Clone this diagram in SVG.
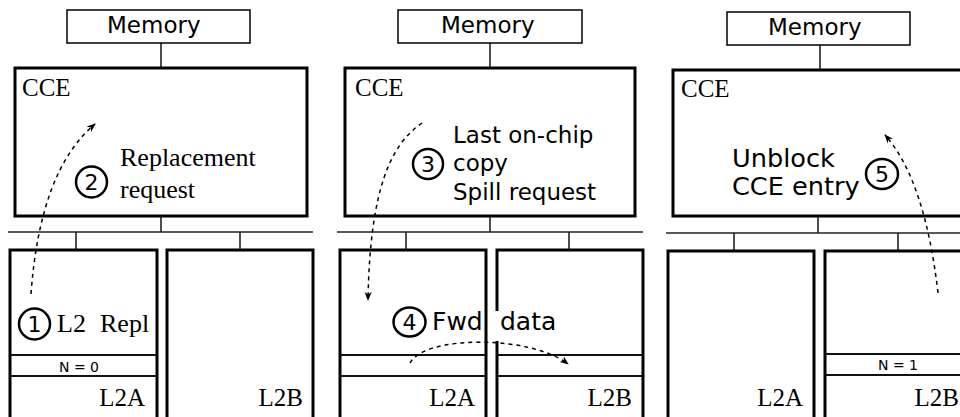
<svg xmlns="http://www.w3.org/2000/svg" width="960" height="417" viewBox="0 0 960 417">
<style>
.thin{fill:#fff;stroke:#000;stroke-width:1.5}
.thick{fill:#fff;stroke:#000;stroke-width:3}
.ln{stroke:#222;stroke-width:1.6;fill:none}
.sep{stroke:#111;stroke-width:2;fill:none}
.serif{font-family:"Liberation Serif","Times New Roman",serif;fill:#000}
.sans{font-family:"DejaVu Sans","Liberation Sans",sans-serif;fill:#000}
.num{fill:#fff;stroke:#000;stroke-width:2.5}
.dash{fill:none;stroke:#000;stroke-width:1.5;stroke-dasharray:4 4;marker-end:url(#ah)}
</style>
<defs>
<marker id="ah" viewBox="0 0 10 10" refX="9" refY="5" markerWidth="9" markerHeight="9" markerUnits="userSpaceOnUse" orient="auto">
<path d="M0,1 L10,5 L0,9 L3,5 Z" fill="#000"/>
</marker>
</defs>
<rect width="960" height="417" fill="#fff"/>

<g id="links">
<line class="ln" x1="161" y1="43" x2="161" y2="68"/>
<line class="ln" x1="161" y1="216" x2="161" y2="232"/>
<line class="ln" x1="8" y1="232" x2="313" y2="232"/>
<line class="ln" x1="76" y1="232" x2="76" y2="250"/>
<line class="ln" x1="240" y1="232" x2="240" y2="250"/>
<line class="ln" x1="490" y1="43" x2="490" y2="68"/>
<line class="ln" x1="490" y1="216" x2="490" y2="232"/>
<line class="ln" x1="337" y1="232" x2="643" y2="232"/>
<line class="ln" x1="406" y1="232" x2="406" y2="250"/>
<line class="ln" x1="569" y1="232" x2="569" y2="250"/>
<line class="ln" x1="820" y1="45" x2="820" y2="70"/>
<line class="ln" x1="818" y1="216" x2="818" y2="233"/>
<line class="ln" x1="666" y1="233" x2="975" y2="233"/>
<line class="ln" x1="734" y1="233" x2="734" y2="251"/>
<line class="ln" x1="898" y1="233" x2="898" y2="251"/>
</g>

<g id="mem1"><rect class="thin" x="67" y="10" width="183" height="33"/><text class="sans" x="107" y="33" font-size="23">Memory</text></g>
<g id="cce1"><rect class="thick" x="15" y="68" width="292" height="148"/><text class="serif" x="22" y="96" font-size="25">CCE</text></g>
<g id="l2a1"><rect class="thick" x="10" y="250" width="147" height="180"/>
<line class="sep" x1="10" y1="355" x2="157" y2="355"/><line class="sep" x1="10" y1="376" x2="157" y2="376"/>
<text class="sans" x="79" y="372" font-size="14" text-anchor="middle">N = 0</text>
<text class="serif" x="145" y="406" font-size="25" text-anchor="end">L2A</text></g>
<g id="l2b1"><rect class="thick" x="167" y="250" width="146" height="180"/>
<text class="serif" x="303" y="406" font-size="25" text-anchor="end">L2B</text></g>

<g id="mem2"><rect class="thin" x="398" y="10" width="184" height="33"/><text class="sans" x="441" y="33" font-size="23">Memory</text></g>
<g id="cce2"><rect class="thick" x="345" y="68" width="290" height="148"/><text class="serif" x="355" y="96" font-size="25">CCE</text></g>
<g id="l2a2"><rect class="thick" x="340" y="250" width="146" height="180"/>
<line class="sep" x1="340" y1="355" x2="486" y2="355"/><line class="sep" x1="340" y1="376" x2="486" y2="376"/>
<text class="serif" x="475" y="406" font-size="25" text-anchor="end">L2A</text></g>
<g id="l2b2"><rect class="thick" x="497" y="250" width="146" height="180"/>
<line class="sep" x1="497" y1="355" x2="643" y2="355"/><line class="sep" x1="497" y1="376" x2="643" y2="376"/>
<text class="serif" x="632" y="406" font-size="25" text-anchor="end">L2B</text></g>

<g id="mem3"><rect class="thin" x="727" y="12" width="183" height="33"/><text class="sans" x="768" y="35" font-size="23">Memory</text></g>
<g id="cce3"><rect class="thick" x="673" y="70" width="300" height="146"/><text class="serif" x="681" y="97" font-size="25">CCE</text></g>
<g id="l2a3"><rect class="thick" x="668" y="251" width="146" height="180"/>
<text class="serif" x="803" y="406" font-size="25" text-anchor="end">L2A</text></g>
<g id="l2b3"><rect class="thick" x="825" y="251" width="146" height="180"/>
<line class="sep" x1="825" y1="354" x2="975" y2="354"/><line class="sep" x1="825" y1="375" x2="975" y2="375"/>
<text class="sans" x="898" y="370" font-size="14" text-anchor="middle">N = 1</text>
<text class="serif" x="959" y="406" font-size="25" text-anchor="end">L2B</text></g>

<g id="step1"><circle class="num" cx="34.5" cy="324" r="15.5"/><text class="sans" x="34.5" y="332" font-size="22" text-anchor="middle">1</text>
<text class="serif" x="57" y="332" font-size="26">L2<tspan x="100">Repl</tspan></text></g>
<g id="step2"><circle class="num" cx="91.5" cy="182" r="15.5"/><text class="sans" x="91.5" y="190" font-size="22" text-anchor="middle">2</text>
<text class="serif" x="120" y="166" font-size="26">Replacement</text><text class="serif" x="120" y="198" font-size="26">request</text></g>
<g id="step3"><circle class="num" cx="428" cy="164" r="15"/><text class="sans" x="428" y="172" font-size="22" text-anchor="middle">3</text>
<text class="sans" x="453" y="143" font-size="23">Last on-chip</text>
<text class="sans" x="453" y="171" font-size="23">copy</text>
<text class="sans" x="453" y="200" font-size="23">Spill request</text></g>
<g id="step4"><rect x="489" y="311" width="70" height="30" fill="#fff"/>
<ellipse class="num" cx="409.5" cy="322" rx="16" ry="14.5"/><text class="sans" x="409.5" y="330" font-size="22" text-anchor="middle">4</text>
<text class="sans" x="432" y="330" font-size="25">Fwd<tspan x="500">data</tspan></text></g>
<g id="step5"><ellipse class="num" cx="882" cy="174" rx="16" ry="15"/><text class="sans" x="882" y="182" font-size="22" text-anchor="middle">5</text>
<text class="sans" x="732" y="167" font-size="25.6">Unblock</text>
<text class="sans" x="732" y="195" font-size="25.6">CCE entry</text></g>

<g id="flows">
<path class="dash" d="M31,294 Q40,170 95,124"/>
<path class="dash" d="M422,123 C390,145 370,190 368,300"/>
<path class="dash" d="M410,363 C425,335 530,335 568,364"/>
<path class="dash" d="M938,293 Q925,180 885,135"/>
</g>
</svg>
